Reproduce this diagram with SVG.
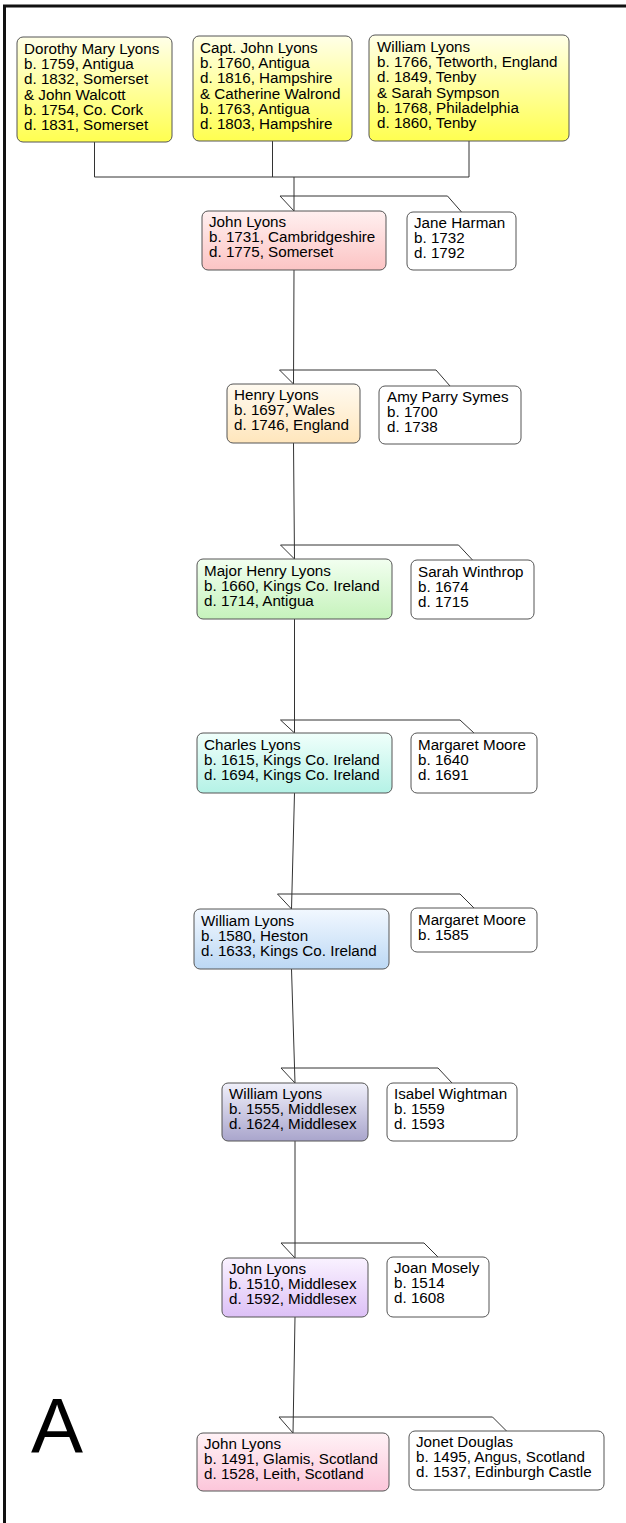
<svg xmlns="http://www.w3.org/2000/svg" width="626" height="1523" viewBox="0 0 626 1523">
<style>
.box{stroke:#555;stroke-width:1}
.sp{fill:#fff}
.t{font-family:"Liberation Sans",Arial,sans-serif;font-size:15.2px;fill:#000}
.c{fill:none;stroke:#333;stroke-width:1}
</style>
<defs>
<linearGradient id="gY" x1="0" y1="0" x2="0" y2="1"><stop offset="0" stop-color="#ffffe8"/><stop offset="1" stop-color="#ffff50"/></linearGradient>
<linearGradient id="gR" x1="0" y1="0" x2="0" y2="1"><stop offset="0" stop-color="#fff0f0"/><stop offset="1" stop-color="#fcc4c4"/></linearGradient>
<linearGradient id="gO" x1="0" y1="0" x2="0" y2="1"><stop offset="0" stop-color="#fffaf0"/><stop offset="1" stop-color="#ffe6bc"/></linearGradient>
<linearGradient id="gG" x1="0" y1="0" x2="0" y2="1"><stop offset="0" stop-color="#f2fff0"/><stop offset="1" stop-color="#c6f3bc"/></linearGradient>
<linearGradient id="gC" x1="0" y1="0" x2="0" y2="1"><stop offset="0" stop-color="#f0fffb"/><stop offset="1" stop-color="#b4f2e6"/></linearGradient>
<linearGradient id="gB" x1="0" y1="0" x2="0" y2="1"><stop offset="0" stop-color="#f2f8ff"/><stop offset="1" stop-color="#bcd8f4"/></linearGradient>
<linearGradient id="gP" x1="0" y1="0" x2="0" y2="1"><stop offset="0" stop-color="#f0f0fa"/><stop offset="1" stop-color="#a9a5cc"/></linearGradient>
<linearGradient id="gV" x1="0" y1="0" x2="0" y2="1"><stop offset="0" stop-color="#faf2ff"/><stop offset="1" stop-color="#dcc0f6"/></linearGradient>
<linearGradient id="gK" x1="0" y1="0" x2="0" y2="1"><stop offset="0" stop-color="#fff2f6"/><stop offset="1" stop-color="#fcc6da"/></linearGradient>
</defs>
<rect x="0" y="0" width="626" height="1523" fill="#fff"/>
<path d="M4.5,1523 V6 H626" fill="none" stroke="#111" stroke-width="3"/>
<text x="31" y="1453" font-family="'Liberation Sans',Arial,sans-serif" font-size="78" fill="#000">A</text>

<g id="connectors">
<path class="c" d="M94.5,142 V177 M272.5,141 V177 M469,141 V177 M94.5,177 H469 M294,177 V211"/>
<path class="c" d="M294,270 L293.5,384 M293.5,443 L294.5,559 M294.5,619 L294.5,733 M294.5,793 L291.5,909 M291.5,969 L295,1083 M295,1141 L295,1258 M295,1317 L293,1433"/>
<path class="c" d="M294,211 L280,196 H447.5 L461.5,212"/>
<path class="c" d="M293.5,384 L279.5,370 H436 L450,386"/>
<path class="c" d="M294.5,559 L280.5,545 H458.5 L472.5,560"/>
<path class="c" d="M294.5,733 L280.5,720 H460 L474,733"/>
<path class="c" d="M291.5,909 L277.5,894 H460 L474,908"/>
<path class="c" d="M295,1083 L281,1068 H438 L452,1083"/>
<path class="c" d="M295,1258 L281,1243 H424 L438,1257"/>
<path class="c" d="M293,1433 L279,1417 H492.5 L506.5,1431"/>
</g>

<g id="n-dorothy">
<rect class="box" x="17" y="37" width="155" height="105" rx="6" fill="url(#gY)"/>
<text class="t" x="24" y="54"><tspan x="24">Dorothy Mary Lyons</tspan><tspan x="24" dy="15.2">b. 1759, Antigua</tspan><tspan x="24" dy="15.2">d. 1832, Somerset</tspan><tspan x="24" dy="15.2">&amp; John Walcott</tspan><tspan x="24" dy="15.2">b. 1754, Co. Cork</tspan><tspan x="24" dy="15.2">d. 1831, Somerset</tspan></text>
</g>
<g id="n-capt-john">
<rect class="box" x="193" y="36" width="159" height="105" rx="6" fill="url(#gY)"/>
<text class="t" x="200" y="53"><tspan x="200">Capt. John Lyons</tspan><tspan x="200" dy="15.2">b. 1760, Antigua</tspan><tspan x="200" dy="15.2">d. 1816, Hampshire</tspan><tspan x="200" dy="15.2">&amp; Catherine Walrond</tspan><tspan x="200" dy="15.2">b. 1763, Antigua</tspan><tspan x="200" dy="15.2">d. 1803, Hampshire</tspan></text>
</g>
<g id="n-william-1766">
<rect class="box" x="369" y="35" width="200" height="106" rx="6" fill="url(#gY)"/>
<text class="t" x="377" y="52"><tspan x="377">William Lyons</tspan><tspan x="377" dy="15.2">b. 1766, Tetworth, England</tspan><tspan x="377" dy="15.2">d. 1849, Tenby</tspan><tspan x="377" dy="15.2">&amp; Sarah Sympson</tspan><tspan x="377" dy="15.2">b. 1768, Philadelphia</tspan><tspan x="377" dy="15.2">d. 1860, Tenby</tspan></text>
</g>

<g id="n-john-1731">
<rect class="box" x="202" y="211" width="184" height="59" rx="6" fill="url(#gR)"/>
<text class="t" x="209" y="227"><tspan x="209">John Lyons</tspan><tspan x="209" dy="15.2">b. 1731, Cambridgeshire</tspan><tspan x="209" dy="15.2">d. 1775, Somerset</tspan></text>
</g>
<g id="n-jane-harman">
<rect class="box sp" x="407" y="212" width="109" height="58" rx="6"/>
<text class="t" x="414" y="228"><tspan x="414">Jane Harman</tspan><tspan x="414" dy="15.2">b. 1732</tspan><tspan x="414" dy="15.2">d. 1792</tspan></text>
</g>

<g id="n-henry-1697">
<rect class="box" x="227" y="384" width="133" height="59" rx="6" fill="url(#gO)"/>
<text class="t" x="234" y="400"><tspan x="234">Henry Lyons</tspan><tspan x="234" dy="15.2">b. 1697, Wales</tspan><tspan x="234" dy="15.2">d. 1746, England</tspan></text>
</g>
<g id="n-amy">
<rect class="box sp" x="379" y="386" width="142" height="58" rx="6"/>
<text class="t" x="387" y="402"><tspan x="387">Amy Parry Symes</tspan><tspan x="387" dy="15.2">b. 1700</tspan><tspan x="387" dy="15.2">d. 1738</tspan></text>
</g>

<g id="n-major-henry">
<rect class="box" x="197" y="559" width="195" height="60" rx="6" fill="url(#gG)"/>
<text class="t" x="204" y="576"><tspan x="204">Major Henry Lyons</tspan><tspan x="204" dy="15.2">b. 1660, Kings Co. Ireland</tspan><tspan x="204" dy="15.2">d. 1714, Antigua</tspan></text>
</g>
<g id="n-sarah-winthrop">
<rect class="box sp" x="411" y="560" width="123" height="59" rx="6"/>
<text class="t" x="418" y="577"><tspan x="418">Sarah Winthrop</tspan><tspan x="418" dy="15.2">b. 1674</tspan><tspan x="418" dy="15.2">d. 1715</tspan></text>
</g>

<g id="n-charles">
<rect class="box" x="197" y="733" width="195" height="60" rx="6" fill="url(#gC)"/>
<text class="t" x="204" y="750"><tspan x="204">Charles Lyons</tspan><tspan x="204" dy="15.2">b. 1615, Kings Co. Ireland</tspan><tspan x="204" dy="15.2">d. 1694, Kings Co. Ireland</tspan></text>
</g>
<g id="n-margaret-1640">
<rect class="box sp" x="411" y="733" width="126" height="60" rx="6"/>
<text class="t" x="418" y="750"><tspan x="418">Margaret Moore</tspan><tspan x="418" dy="15.2">b. 1640</tspan><tspan x="418" dy="15.2">d. 1691</tspan></text>
</g>

<g id="n-william-1580">
<rect class="box" x="194" y="909" width="195" height="60" rx="6" fill="url(#gB)"/>
<text class="t" x="201" y="926"><tspan x="201">William Lyons</tspan><tspan x="201" dy="15.2">b. 1580, Heston</tspan><tspan x="201" dy="15.2">d. 1633, Kings Co. Ireland</tspan></text>
</g>
<g id="n-margaret-1585">
<rect class="box sp" x="411" y="908" width="126" height="44" rx="6"/>
<text class="t" x="418" y="925"><tspan x="418">Margaret Moore</tspan><tspan x="418" dy="15.2">b. 1585</tspan></text>
</g>

<g id="n-william-1555">
<rect class="box" x="222" y="1083" width="146" height="58" rx="6" fill="url(#gP)"/>
<text class="t" x="229" y="1099"><tspan x="229">William Lyons</tspan><tspan x="229" dy="15.2">b. 1555, Middlesex</tspan><tspan x="229" dy="15.2">d. 1624, Middlesex</tspan></text>
</g>
<g id="n-isabel">
<rect class="box sp" x="387" y="1083" width="130" height="58" rx="6"/>
<text class="t" x="394" y="1099"><tspan x="394">Isabel Wightman</tspan><tspan x="394" dy="15.2">b. 1559</tspan><tspan x="394" dy="15.2">d. 1593</tspan></text>
</g>

<g id="n-john-1510">
<rect class="box" x="222" y="1258" width="146" height="59" rx="6" fill="url(#gV)"/>
<text class="t" x="229" y="1274"><tspan x="229">John Lyons</tspan><tspan x="229" dy="15.2">b. 1510, Middlesex</tspan><tspan x="229" dy="15.2">d. 1592, Middlesex</tspan></text>
</g>
<g id="n-joan">
<rect class="box sp" x="387" y="1257" width="102" height="60" rx="6"/>
<text class="t" x="394" y="1273"><tspan x="394">Joan Mosely</tspan><tspan x="394" dy="15.2">b. 1514</tspan><tspan x="394" dy="15.2">d. 1608</tspan></text>
</g>

<g id="n-john-1491">
<rect class="box" x="197" y="1433" width="192" height="58" rx="6" fill="url(#gK)"/>
<text class="t" x="204" y="1449"><tspan x="204">John Lyons</tspan><tspan x="204" dy="15.2">b. 1491, Glamis, Scotland</tspan><tspan x="204" dy="15.2">d. 1528, Leith, Scotland</tspan></text>
</g>
<g id="n-jonet">
<rect class="box sp" x="409" y="1431" width="195" height="59" rx="6"/>
<text class="t" x="416" y="1447"><tspan x="416">Jonet Douglas</tspan><tspan x="416" dy="15.2">b. 1495, Angus, Scotland</tspan><tspan x="416" dy="15.2">d. 1537, Edinburgh Castle</tspan></text>
</g>
</svg>
